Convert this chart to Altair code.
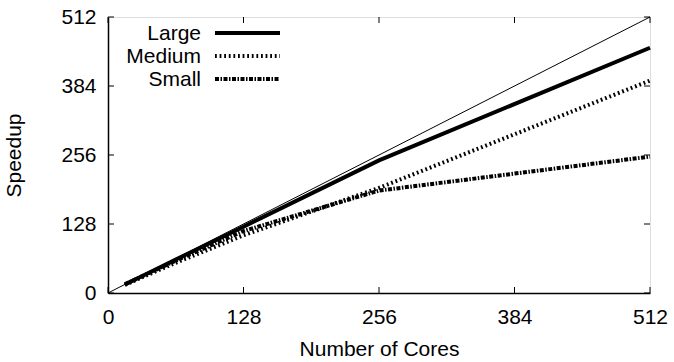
import altair as alt
import pandas as pd

cores = [16, 32, 64, 128, 256, 512]
large = [16, 31, 62, 123, 246, 455]
medium = [15, 29, 56, 107, 195, 394]
small = [16, 31, 60, 115, 190, 253]
ideal_x = [0, 512]
ideal_y = [0, 512]
ticks = [0, 128, 256, 384, 512]
series_names = ["Large", "Medium", "Small"]

FONT = "Liberation Sans"
FS = 21
W, H = 542, 276

rows = []
for name, vals in zip(series_names, [large, medium, small]):
    for c, v in zip(cores, vals):
        rows.append({"cores": c, "speedup": v, "series": name})
df = pd.DataFrame(rows)
ideal_df = pd.DataFrame({"cores": ideal_x, "speedup": ideal_y})
tick_df = pd.DataFrame({"t": ticks})

xscale = alt.Scale(domain=[0, 512], nice=False, zero=False)
yscale = alt.Scale(domain=[0, 512], nice=False, zero=False)

xaxis = alt.Axis(values=ticks, title="Number of Cores", grid=False, ticks=False,
                 domainColor="black", domainWidth=1.5, labelFont=FONT, labelFontSize=FS,
                 labelColor="black", labelBaseline="alphabetic", labelPadding=30,
                 labelFlush=False, labelOverlap=False,
                 titleFont=FONT, titleFontSize=FS, titleFontWeight="normal", titleColor="black",
                 titleBaseline="alphabetic", titleY=62, titleX=W / 2)
yaxis = alt.Axis(values=ticks, title="Speedup", grid=False, ticks=False,
                 domainColor="black", domainWidth=1.5, labelFont=FONT, labelFontSize=FS,
                 labelColor="black", labelBaseline="middle", labelPadding=12,
                 labelFlush=False, labelOverlap=False,
                 titleFont=FONT, titleFontSize=FS, titleFontWeight="normal", titleColor="black",
                 titleAngle=270, titleAlign="center", titleBaseline="middle",
                 titleX=-94, titleY=H / 2)

base = alt.Chart(df)

ideal = alt.Chart(ideal_df).mark_line(color="black", strokeWidth=1).encode(
    x=alt.X("cores:Q", scale=xscale, axis=xaxis),
    y=alt.Y("speedup:Q", scale=yscale, axis=yaxis),
)

styles = {
    "Large": dict(strokeWidth=4),
    "Medium": dict(strokeWidth=4, strokeDash=[1.8, 2.8]),
    "Small": dict(strokeWidth=4, strokeDash=[4, 1.5, 1.5, 1.5]),
}

layers = [ideal]
for name in series_names:
    layers.append(
        base.transform_filter(alt.datum.series == name)
        .mark_line(color="black", strokeCap="butt", **styles[name])
        .encode(x=alt.X("cores:Q", scale=xscale), y=alt.Y("speedup:Q", scale=yscale))
    )

# inward ticks on all four sides
tx = alt.Chart(tick_df)
layers.append(tx.mark_rule(color="black", strokeWidth=1).encode(
    x=alt.X("t:Q", scale=xscale), y=alt.value(H), y2=alt.value(H - 6)))
layers.append(tx.mark_rule(color="black", strokeWidth=1).encode(
    x=alt.X("t:Q", scale=xscale), y=alt.value(0), y2=alt.value(6)))
layers.append(tx.mark_rule(color="black", strokeWidth=1).encode(
    y=alt.Y("t:Q", scale=yscale), x=alt.value(0), x2=alt.value(6)))
layers.append(tx.mark_rule(color="black", strokeWidth=1).encode(
    y=alt.Y("t:Q", scale=yscale), x=alt.value(W), x2=alt.value(W - 6)))

# legend (top-left, labels left of line samples)
for i, name in enumerate(series_names):
    ldf = pd.DataFrame({"label": [name]})
    yy = 16 + 23 * i
    layers.append(alt.Chart(ldf).mark_text(align="right", baseline="middle", font=FONT,
                                           fontSize=FS, color="black").encode(
        x=alt.value(93), y=alt.value(yy + 1), text="label:N"))
    layers.append(alt.Chart(ldf).mark_rule(color="black", strokeCap="butt", **styles[name]).encode(
        x=alt.value(107), x2=alt.value(172), y=alt.value(yy)))

chart = alt.layer(*layers).properties(
    width=W, height=H,
    autosize=alt.AutoSizeParams(type="none"),
    padding={"left": 108, "top": 17, "right": 24, "bottom": 69},
).configure_view(stroke="black", strokeWidth=1).configure(background="white")

chart.save("out.html", embed_options={"renderer": "svg", "actions": False})
